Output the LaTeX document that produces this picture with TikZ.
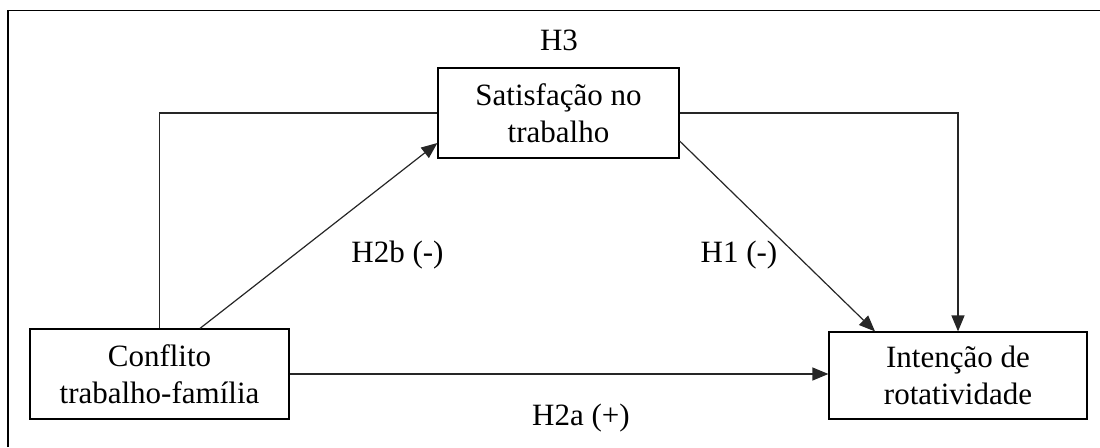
\documentclass[tikz,border=0pt]{standalone}
\usepackage{fontspec}
\setmainfont{Liberation Serif}
\usetikzlibrary{arrows.meta}
\begin{document}
\begin{tikzpicture}[x=1pt,y=-1pt,
  box/.style={draw=black, line width=1.2pt, align=center, inner sep=0pt,
    font=\fontsize{31}{37}\selectfont},
  lbl/.style={anchor=base, inner sep=0pt, font=\fontsize{31}{37}\selectfont},
  conn/.style={draw=black!85, line width=1.2pt},
  arr/.style={conn, -{Triangle[length=16pt,width=13pt]}}]
\useasboundingbox (0,0) rectangle (1100,447);
\draw[line width=1.3pt] (8,447) -- (8,10.5) -- (1100,10.5);
\node[box, minimum width=241pt, minimum height=90pt] (sat) at (558.5,113) {Satisfação no\\trabalho};
\node[box, minimum width=259pt, minimum height=90pt] (conf) at (159.5,374) {Conflito\\trabalho-família};
\node[box, minimum width=258pt, minimum height=87pt] (int) at (958,375.5) {Intenção de\\rotatividade};
\draw[conn] (conf.north) |- (sat.west);
\draw[arr] (sat.east) -| (int.north);
\draw[arr] ([xshift=40.5pt]conf.north) -- ([yshift=-30pt]sat.west);
\draw[arr] ([yshift=-28pt]sat.east) -- ([xshift=-83pt]int.north);
\draw[arr] (conf.east) -- (conf.east -| int.west);
\node[lbl] (h3) at (559,50) {H3};
\node[lbl] (h2b) at (397.5,262) {H2b (-)};
\node[lbl] (h1) at (739,262) {H1 (-)};
\node[lbl] (h2a) at (581,425) {H2a (+)};
\end{tikzpicture}
\end{document}
